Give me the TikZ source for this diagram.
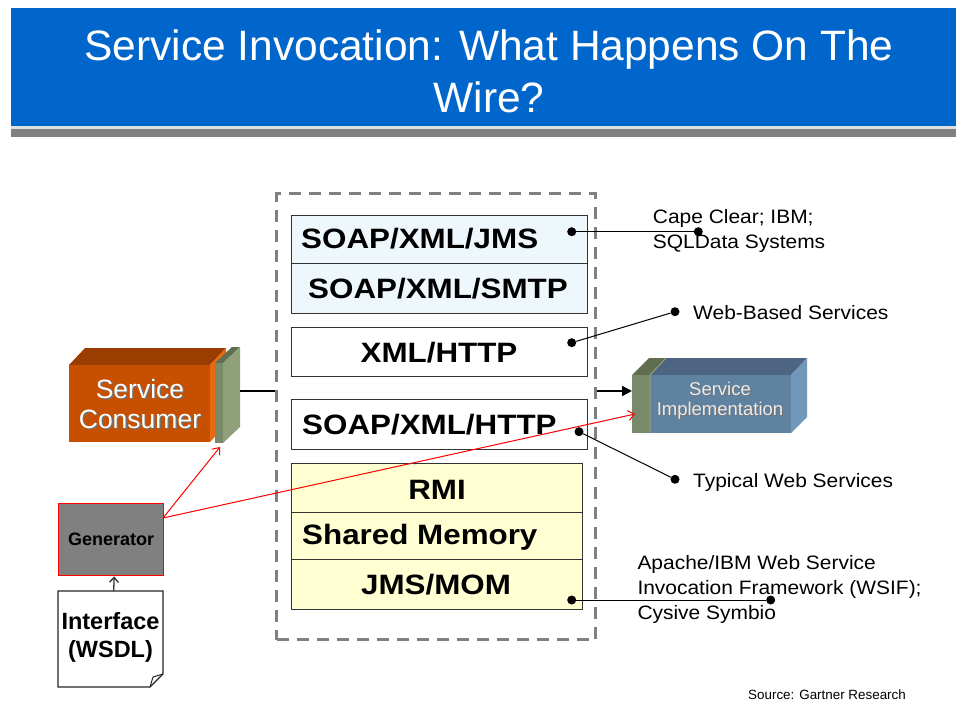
\documentclass[tikz,border=0pt]{standalone}
\usepackage{fontspec}
\setmainfont{Liberation Sans}
\newfontfamily\widefont[FakeStretch=1.12]{Liberation Sans}
\newfontfamily\notefont[FakeStretch=1.08]{Liberation Sans}
\usetikzlibrary{arrows.meta}

\definecolor{titleblue}{HTML}{0066CC}
\definecolor{bargray}{HTML}{808080}
\definecolor{paleblue}{HTML}{EEF8FC}
\definecolor{paleyellow}{HTML}{FFFFD2}
\definecolor{consfront}{HTML}{C65000}
\definecolor{constop}{HTML}{9A3D00}
\definecolor{consside}{HTML}{E86A10}
\definecolor{plfront}{HTML}{788A6A}
\definecolor{plside}{HTML}{90A07A}
\definecolor{pltop}{HTML}{5F6E50}
\definecolor{implfront}{HTML}{5F82A0}
\definecolor{impltop}{HTML}{4D6580}
\definecolor{implside}{HTML}{7098BA}
\definecolor{frameGray}{HTML}{808080}

\begin{document}
\begin{tikzpicture}[x=1pt,y=-1pt,
  layer/.style={draw=black!80, line width=1.2pt, inner sep=0pt, anchor=north west},
  laytext/.style={inner sep=0pt, font=\widefont\bfseries\fontsize{28}{30}\selectfont},
  note/.style={inner sep=0pt, align=left, anchor=west, font=\notefont\fontsize{19.4}{25}\selectfont},
  dotmark/.style={circle, fill=black, inner sep=0pt, minimum size=9pt},
  leader/.style={black, line width=1pt},
  redarrow/.style={red, line width=1pt, -{Straight Barb[length=6pt,width=10pt]}},
  boxtext/.style={inner sep=0pt, align=center},
]
\useasboundingbox (0,0) rectangle (956,723);
\fill[white] (0,0) rectangle (956,723);

% title banner
\fill[titleblue] (11,8) rectangle (956,126);
\fill[black!12] (11,126) rectangle (956,129);
\fill[bargray] (11,129) rectangle (956,137);
\node[anchor=base, inner sep=0pt, text=white, font=\fontsize{42.5}{52}\selectfont] (title1) at (489,60) {Service Invocation: What Happens On The};
\node[anchor=base, inner sep=0pt, text=white, font=\fontsize{42.5}{52}\selectfont] (title2) at (489,112) {Wire?};

% dashed transport frame
\node[draw=frameGray, line width=3pt, dash pattern=on 12pt off 8pt, minimum width=319pt, minimum height=446pt, inner sep=0pt, anchor=north west] (frame) at (275,192) {};

% protocol layers
\node[layer, fill=paleblue, minimum width=296pt, minimum height=48pt] (jms) at (291,215) {};
\node[layer, fill=paleblue, minimum width=296pt, minimum height=50pt] (smtp) at (291,263) {};
\node[layer, fill=white, minimum width=296pt, minimum height=49pt] (xmlhttp) at (291,327) {};
\node[layer, fill=white, minimum width=296pt, minimum height=50pt] (soaphttp) at (291,399) {};
\node[layer, fill=paleyellow, minimum width=291pt, minimum height=49pt] (rmi) at (291,463) {};
\node[layer, fill=paleyellow, minimum width=291pt, minimum height=47pt] (shm) at (291,512) {};
\node[layer, fill=paleyellow, minimum width=291pt, minimum height=50pt] (jmsmom) at (291,559) {};

\node[laytext, anchor=west] (tjms) at (301,239) {SOAP/XML/JMS};
\node[laytext] (tsmtp) at (438,289) {SOAP/XML/SMTP};
\node[laytext] (txmlhttp) at (439,353) {XML/HTTP};
\node[laytext, anchor=west] (tsoaphttp) at (302,425) {SOAP/XML/HTTP};
\node[laytext] (trmi) at (437,490) {RMI};
\node[laytext, anchor=west] (tshm) at (302,537) {Shared Memory};
\node[laytext] (tjmsmom) at (436,585) {JMS/MOM};

% service consumer block with its interface plate
\fill[constop] (69,365) -- (85,348) -- (226,348) -- (210,365) -- cycle;
\fill[consside] (210,365) -- (226,348) -- (226,425) -- (210,442) -- cycle;
\node[fill=consfront, minimum width=141pt, minimum height=77pt, inner sep=0pt, anchor=north west] (consumer) at (69,365) {};
\fill[pltop] (215,363) -- (232,347) -- (240,347) -- (223,363) -- cycle;
\fill[plside] (223,363) -- (240,347) -- (240,427) -- (223,443) -- cycle;
\fill[plfront] (215,363) rectangle (223,443);
\node[boxtext, text=black!55, font=\fontsize{26.5}{30}\selectfont] (consshadow) at (141.5,405.5) {Service\\Consumer};
\node[boxtext, text=white, font=\fontsize{26.5}{30}\selectfont] (consumertext) at (140,404) {Service\\Consumer};
\coordinate (cplate) at (240,391);
\coordinate (cplatebot) at (220,447);

% service implementation block with its interface plate
\fill[impltop] (650,375) -- (666,358) -- (807,358) -- (791,375) -- cycle;
\fill[implside] (791,375) -- (807,358) -- (807,417) -- (791,433) -- cycle;
\node[fill=implfront, minimum width=141pt, minimum height=58pt, inner sep=0pt, anchor=north west] (impl) at (650,375) {};
\fill[pltop] (632,375) -- (649,358) -- (666,358) -- (650,375) -- cycle;
\fill[plfront] (632,375) rectangle (650,433);
\draw[plside, line width=1pt] (650,375) -- (666,358) (650,375) -- (650,433);
\node[boxtext, text=black!55, font=\fontsize{18.5}{20}\selectfont] (implshadow) at (721,402) {Service\\Implementation};
\node[boxtext, text=black!8, font=\fontsize{18.5}{20}\selectfont] (impltext) at (720,401) {Service\\Implementation};
\coordinate (iplate) at (632,391);
\coordinate (iplatein) at (635,414);

% wiring between the blocks and the frame
\draw[black, line width=2pt] (cplate) -- (cplate -| frame.west);
\draw[black, line width=2pt, -{Triangle[length=10pt,width=10pt]}] (iplate -| frame.east) -- (iplate);

% generator and WSDL document
\node[draw=red, line width=1.4pt, fill=bargray, minimum width=105pt, minimum height=72pt, inner sep=0pt, anchor=north west,
      font=\bfseries\fontsize{18}{20}\selectfont] (gen) at (58,503) {Generator};
\node[minimum width=105pt, minimum height=96pt, inner sep=0pt, anchor=north west] (iface) at (58,591) {};
\draw[black!85, line width=1.2pt, fill=white] (58,591) -- (163,591) -- (163,674) -- (150,687) -- (58,687) -- cycle;
\draw[black!85, line width=1pt] (150,687) .. controls (152,682) .. (153,677) -- (163,674);
\node[boxtext, font=\bfseries\fontsize{23.5}{28}\selectfont] (ifacetext) at (110.5,637) {Interface\\(WSDL)};
\draw[black!80, line width=1.3pt, -{Straight Barb[length=5pt,width=9pt]}] ([xshift=3pt]iface.north) -- ([xshift=3pt]gen.south);

\coordinate (gsrc) at (163,518);
\draw[redarrow] (gsrc) -- (cplatebot);
\draw[redarrow] (gsrc) -- (iplatein);

% vendor notes
\node[dotmark] (d1a) at (571.7,231.7) {};
\node[dotmark] (d1b) at (698.3,231.7) {};
\draw[leader] (d1a) -- (d1b);
\node[note] (capeclear) at (652.7,231) {Cape Clear; IBM;\\SQLData Systems};

\node[dotmark] (d2a) at (571.7,342.7) {};
\node[dotmark] (d2b) at (675,311.7) {};
\draw[leader] (d2a) -- (d2b);
\node[note] (webbased) at (693,313) {Web-Based Services};

\node[dotmark] (d3a) at (579,431.7) {};
\node[dotmark] (d3b) at (675,479.3) {};
\draw[leader] (d3a) -- (d3b);
\node[note] (typical) at (693,482) {Typical Web Services};

\node[dotmark] (d4a) at (571.7,600) {};
\node[dotmark] (d4b) at (770.7,600) {};
\draw[leader] (d4a) -- (d4b);
\node[note] (apache) at (637.3,589) {Apache/IBM Web Service\\Invocation Framework (WSIF);\\Cysive Symbio};

\node[inner sep=0pt, anchor=west, font=\fontsize{13.4}{16}\selectfont] (source) at (748,695) {Source: Gartner Research};
\end{tikzpicture}
\end{document}
